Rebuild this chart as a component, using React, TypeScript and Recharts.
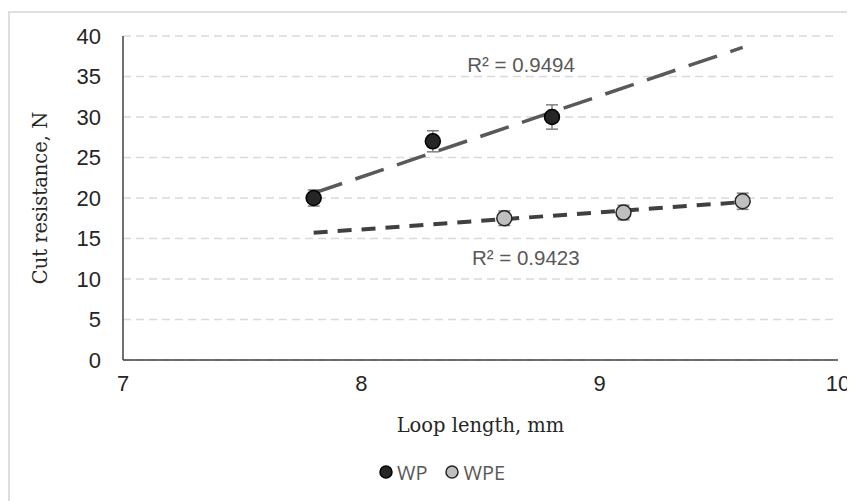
import React from "react";
import {
  ScatterChart,
  Scatter,
  XAxis,
  YAxis,
  CartesianGrid,
  ErrorBar,
  Legend,
  ReferenceDot,
} from "recharts";

// measured points (loop length, cut resistance, +/- error)
const wpPoints = [
  { x: 7.8, y: 20.0, err: 1.0 },
  { x: 8.3, y: 27.0, err: 1.3 },
  { x: 8.8, y: 30.0, err: 1.5 },
];
const wpePoints = [
  { x: 8.6, y: 17.5, err: 0.9 },
  { x: 9.1, y: 18.2, err: 0.9 },
  { x: 9.6, y: 19.6, err: 1.0 },
];

// linear trend lines as drawn on the picture
const wpTrend = [
  { x: 7.8, y: 20.6 },
  { x: 9.6, y: 38.6 },
];
const wpeTrend = [
  { x: 7.8, y: 15.7 },
  { x: 9.6, y: 19.5 },
];

const r2Labels = [
  { x: 8.67, y: 36.5, text: "R² = 0.9494" },
  { x: 8.69, y: 12.6, text: "R² = 0.9423" },
];

const xTicks = [7, 8, 9, 10];
const yTicks = [0, 5, 10, 15, 20, 25, 30, 35, 40];

const legendItems = [
  { name: "WP", fill: "#262626", stroke: "#000000" },
  { name: "WPE", fill: "#bfbfbf", stroke: "#262626" },
];

const W = 847;
const H = 493;

const sans = "Liberation Sans, Arial, sans-serif";
const tickStyle = { fill: "#262626", fontSize: 22, fontFamily: sans };
const titleFont = "DejaVu Serif, Liberation Serif, serif";

function marker(fill: string, stroke: string) {
  return (p: any) => (
    <circle cx={p.cx} cy={p.cy} r={7.5} fill={fill} stroke={stroke} strokeWidth={1.5} />
  );
}

const noShape = () => <g />;

function ChartLegend() {
  return (
    <div
      style={{
        height: 30,
        display: "flex",
        alignItems: "center",
        justifyContent: "center",
        gap: 18,
        paddingLeft: 38,
        fontFamily: "'Open Sans', sans-serif",
        fontSize: 20,
        color: "#595959",
      }}
    >
      {legendItems.map((it) => (
        <span key={it.name} style={{ display: "flex", alignItems: "center", gap: 4 }}>
          <svg width={14} height={14}>
            <circle cx={7} cy={7} r={6} fill={it.fill} stroke={it.stroke} strokeWidth={1.5} />
          </svg>
          {it.name}
        </span>
      ))}
    </div>
  );
}

export default function App() {
  return (
    <div style={{ position: "relative", width: W, height: H }}>
      <div
        style={{
          position: "absolute",
          left: 0,
          top: 3,
          width: W,
          height: H - 3,
          boxSizing: "border-box",
          borderLeft: "2px solid #dedede",
          borderTop: "2px solid #dedede",
        }}
      />
      <ScatterChart width={W} height={H} margin={{ top: 28, right: 17, left: 0, bottom: 14 }}>
        <CartesianGrid
          horizontal
          vertical={false}
          stroke="#d9d9d9"
          strokeWidth={1.3}
          strokeDasharray="8 5"
        />
        <XAxis
          type="number"
          dataKey="x"
          domain={[7, 10]}
          ticks={xTicks}
          height={97}
          tick={tickStyle}
          fontSize={22}
          fontFamily={sans}
          tickLine={false}
          tickSize={0}
          tickMargin={15}
          axisLine={{ stroke: "#404040", strokeWidth: 1.5 }}
          label={{
            value: "Loop length, mm",
            position: "insideTop",
            offset: 58,
            fill: "#262626",
            fontSize: 19.5,
            fontFamily: titleFont,
          }}
        />
        <YAxis
          type="number"
          dataKey="y"
          domain={[0, 40]}
          ticks={yTicks}
          width={115}
          tick={tickStyle}
          fontSize={22}
          fontFamily={sans}
          tickLine={false}
          tickSize={0}
          tickMargin={22}
          axisLine={{ stroke: "#404040", strokeWidth: 1.5 }}
          label={{
            value: "Cut resistance, N",
            angle: -90,
            position: "center",
            dx: -25,
            fill: "#262626",
            fontSize: 19.5,
            fontFamily: titleFont,
          }}
        />
        <Legend verticalAlign="bottom" height={30} content={<ChartLegend />} />
        <Scatter
          name="WP trend"
          data={wpTrend}
          fill="#595959"
          shape={noShape}
          line={{ stroke: "#595959", strokeWidth: 3.5, strokeDasharray: "30 14" }}
          legendType="none"
          isAnimationActive={false}
        />
        <Scatter
          name="WPE trend"
          data={wpeTrend}
          fill="#404040"
          shape={noShape}
          line={{ stroke: "#404040", strokeWidth: 4, strokeDasharray: "14 10" }}
          legendType="none"
          isAnimationActive={false}
        />
        <Scatter name="WP" data={wpPoints} fill="#262626" shape={marker("#262626", "#000000")} isAnimationActive={false}>
          <ErrorBar dataKey="err" direction="y" width={6} stroke="#808080" strokeWidth={1.5} isAnimationActive={false} />
        </Scatter>
        <Scatter name="WPE" data={wpePoints} fill="#bfbfbf" shape={marker("#bfbfbf", "#262626")} isAnimationActive={false}>
          <ErrorBar dataKey="err" direction="y" width={6} stroke="#808080" strokeWidth={1.5} isAnimationActive={false} />
        </Scatter>
        {r2Labels.map((l) => (
          <ReferenceDot
            key={l.text}
            x={l.x}
            y={l.y}
            r={0}
            fill="none"
            stroke="none"
            ifOverflow="visible"
            label={{
              value: l.text,
              position: "center",
              fill: "#595959",
              fontSize: 20.5,
              fontFamily: sans,
            }}
          />
        ))}
      </ScatterChart>
    </div>
  );
}
